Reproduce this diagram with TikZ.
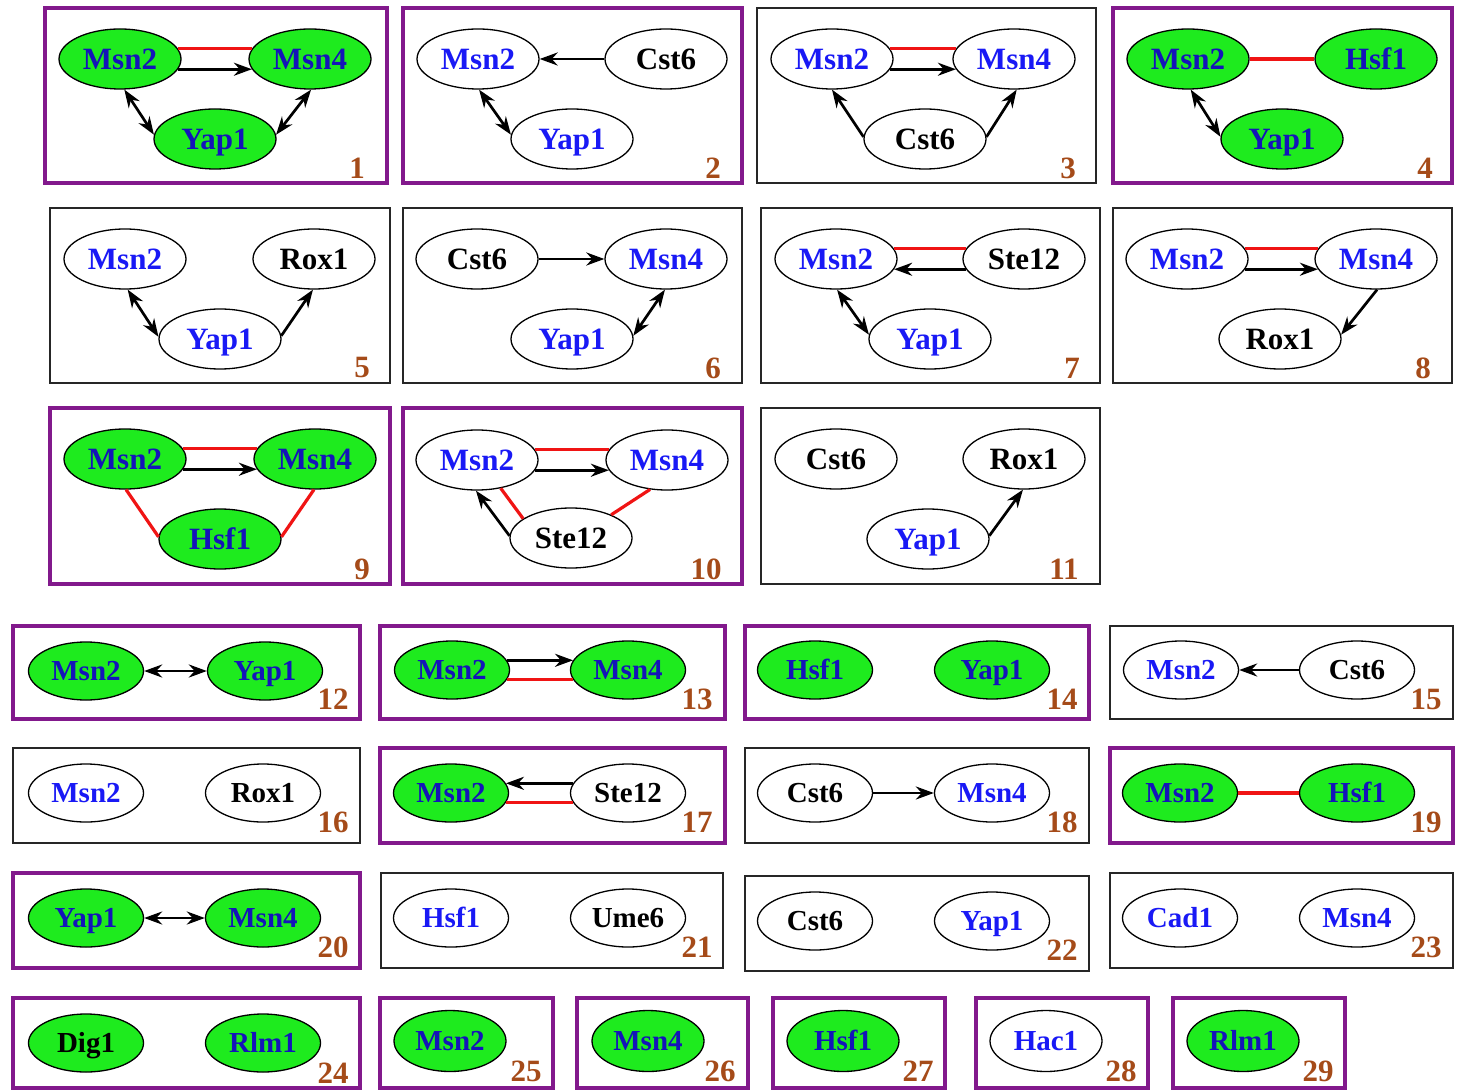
\documentclass[tikz,border=0pt]{standalone}
\usepackage{fontspec}
\setmainfont{Liberation Serif}
\usetikzlibrary{shapes.geometric,arrows.meta}

\definecolor{nodegreen}{RGB}{30,235,30}
\definecolor{geneblue}{RGB}{25,25,245}
\definecolor{deepblue}{RGB}{20,20,185}
\definecolor{boxpurple}{RGB}{130,25,140}
\definecolor{numbrown}{RGB}{165,75,25}
\definecolor{edgered}{RGB}{240,20,20}

\newcommand\genefont{\fontsize{15.5}{18}\selectfont\bfseries}
\newcommand\smallgenefont{\fontsize{14.5}{17}\selectfont\bfseries}
\newcommand\numfont{\fontsize{15.5}{18}\selectfont\bfseries}

\tikzset{
  gene/.style={ellipse, draw=black, line width=0.65pt, minimum width=61pt,
    minimum height=30pt, inner sep=0pt, font=\genefont,
    text height=10.4pt, text depth=0pt},
  gon/.style={gene, fill=nodegreen, text=deepblue},
  goff/.style={gene, fill=white, text=geneblue},
  gonk/.style={gene, fill=nodegreen, text=black},
  goffk/.style={gene, fill=white, text=black},
  small/.style={minimum width=57.5pt, minimum height=29pt, font=\smallgenefont,
    text height=9.8pt, text depth=0pt},
  single/.style={minimum width=56pt, minimum height=30.5pt, font=\smallgenefont,
    text height=9.8pt, text depth=0pt},
  pbox/.style={draw=boxpurple, line width=1.75pt},
  kbox/.style={draw=black!85, line width=1.1pt},
  num/.style={text=numbrown, font=\numfont, inner sep=0pt},
  tip/.tip={Stealth[length=9pt,width=6.5pt]},
  act/.style={-tip, line width=1.35pt},
  mutual/.style={tip-tip, line width=1.35pt},
  bind/.style={draw=edgered, line width=1.6pt}
}

\begin{document}
\begin{tikzpicture}[x=0.5pt,y=-0.5pt]
\useasboundingbox (0,0) rectangle (1459,1090);
\fill[white] (0,0) rectangle (1459,1090);

% ---------------- row 1 ----------------
% motif 1
\draw[pbox] (45,8) rectangle (387,183);
\node[gon] (a1) at (120,59) {Msn2};
\node[gon] (b1) at (310,59) {Msn4};
\node[gon] (c1) at (215,139) {Yap1};
\node[num] (n1) at (357,168) {1};
\draw[bind] (a1.10) -- (b1.170);
\draw[act] (a1.-10) -- (b1.-170);
\draw[mutual] (a1.-82) -- (c1.176);
\draw[mutual] (b1.-88) -- (c1.4);

% motif 2
\draw[pbox] (403,8) rectangle (742,183);
\node[goff] (a2) at (478,59) {Msn2};
\node[goffk] (b2) at (666,59) {Cst6};
\node[goff] (c2) at (572,139) {Yap1};
\node[num] (n2) at (713,168) {2};
\draw[act] (b2.west) -- (a2.east);
\draw[mutual] (a2.-88) -- (c2.176);

% motif 3
\draw[kbox] (757,8) rectangle (1096,183);
\node[goff] (a3) at (832,59) {Msn2};
\node[goff] (b3) at (1014,59) {Msn4};
\node[goffk] (c3) at (925,139) {Cst6};
\node[num] (n3) at (1068,168) {3};
\draw[bind] (a3.10) -- (b3.170);
\draw[act] (a3.-10) -- (b3.-170);
\draw[act] (c3.178) -- (a3.-90);
\draw[act] (c3.2) -- (b3.-85);

% motif 4
\draw[pbox] (1113,8) rectangle (1452,183);
\node[gon] (a4) at (1188,59) {Msn2};
\node[gon] (b4) at (1376,59) {Hsf1};
\node[gon] (c4) at (1282,139) {Yap1};
\node[num] (n4) at (1425,168) {4};
\draw[bind] (a4) -- (b4);
\draw[mutual] (a4.-85) -- (c4.178);

% ---------------- row 2 ----------------
% motif 5
\draw[kbox] (50,208) rectangle (390,383);
\node[goff] (a5) at (125,259) {Msn2};
\node[goffk] (b5) at (314,259) {Rox1};
\node[goff] (c5) at (220,339) {Yap1};
\node[num] (n5) at (362,368) {5};
\draw[mutual] (a5.-85) -- (c5.178);
\draw[act] (c5.3) -- (b5.-92);

% motif 6
\draw[kbox] (403,208) rectangle (742,383);
\node[goffk] (a6) at (477,259) {Cst6};
\node[goff] (b6) at (666,259) {Msn4};
\node[goff] (c6) at (572,339) {Yap1};
\node[num] (n6) at (713,368) {6};
\draw[act] (a6.east) -- (b6.west);
\draw[mutual] (c6.3) -- (b6.-92);

% motif 7
\draw[kbox] (761,208) rectangle (1100,383);
\node[goff] (a7) at (836,259) {Msn2};
\node[goffk] (b7) at (1024,259) {Ste12};
\node[goff] (c7) at (930,339) {Yap1};
\node[num] (n7) at (1072,368) {7};
\draw[bind] (a7.10) -- (b7.170);
\draw[act] (b7.-170) -- (a7.-10);
\draw[mutual] (a7.-88) -- (c7.176);

% motif 8
\draw[kbox] (1113,208) rectangle (1452,383);
\node[goff] (a8) at (1187,259) {Msn2};
\node[goff] (b8) at (1376,259) {Msn4};
\node[goffk] (c8) at (1280,339) {Rox1};
\node[num] (n8) at (1423,368) {8};
\draw[bind] (a8.10) -- (b8.170);
\draw[act] (a8.-10) -- (b8.-170);
\draw[act] (b8.-88) -- (c8.4);

% ---------------- row 3 ----------------
% motif 9
\draw[pbox] (50,408) rectangle (390,584);
\node[gon] (a9) at (125,459) {Msn2};
\node[gon] (b9) at (315,459) {Msn4};
\node[gon] (c9) at (220,539) {Hsf1};
\node[num] (n9) at (362,569) {9};
\draw[bind] (a9.10) -- (b9.170);
\draw[act] (a9.-10) -- (b9.-170);
\draw[bind] (a9.-88) -- (c9.178);
\draw[bind] (b9.-92) -- (c9.2);

% motif 10
\draw[pbox] (403,408) rectangle (742,584);
\node[goff] (a10) at (477,460) {Msn2};
\node[goff] (b10) at (667,460) {Msn4};
\node[goffk] (c10) at (571,538) {Ste12};
\node[num] (n10) at (706,569) {10};
\draw[bind] (a10.10) -- (b10.170);
\draw[act] (a10.-10) -- (b10.-170);
\draw[bind] (a10.-50) -- (c10.158);
\draw[bind] (b10.-120) -- (c10.30);
\draw[act] (c10.178) -- (a10.-92);

% motif 11
\draw[kbox] (761,408) rectangle (1100,584);
\node[goffk] (a11) at (836,459) {Cst6};
\node[goffk] (b11) at (1024,459) {Rox1};
\node[goff] (c11) at (928,539) {Yap1};
\node[num] (n11) at (1064,569) {11};
\draw[act] (c11.3) -- (b11.-92);

% ---------------- row 4 ----------------
\draw[pbox] (13,626) rectangle (360,719);
\node[gon,small] (a12) at (86,671) {Msn2};
\node[gon,small] (b12) at (265,671) {Yap1};
\node[num] (n12) at (333,699) {12};
\draw[mutual] (a12.east) -- (b12.west);

\draw[pbox] (380,626) rectangle (725,719);
\node[gon,small] (a13) at (452,670) {Msn2};
\node[gon,small] (b13) at (628,670) {Msn4};
\node[num] (n13) at (697,699) {13};
\draw[act] (a13.10) -- (b13.170);
\draw[bind] (a13.-10) -- (b13.-170);

\draw[pbox] (745,626) rectangle (1089,719);
\node[gon,small] (a14) at (815,670) {Hsf1};
\node[gon,small] (b14) at (992,670) {Yap1};
\node[num] (n14) at (1062,699) {14};

\draw[kbox] (1110,626) rectangle (1453,719);
\node[goff,small] (a15) at (1181,670) {Msn2};
\node[goffk,small] (b15) at (1357,670) {Cst6};
\node[num] (n15) at (1426,699) {15};
\draw[act] (b15.west) -- (a15.east);

% ---------------- row 5 ----------------
\draw[kbox] (13,748) rectangle (360,843);
\node[goff,small] (a16) at (86,793) {Msn2};
\node[goffk,small] (b16) at (263,793) {Rox1};
\node[num] (n16) at (333,822) {16};

\draw[pbox] (380,748) rectangle (725,843);
\node[gon,small] (a17) at (451,793) {Msn2};
\node[goffk,small] (b17) at (628,793) {Ste12};
\node[num] (n17) at (697,822) {17};
\draw[act] (b17.170) -- (a17.10);
\draw[bind] (a17.-10) -- (b17.-170);

\draw[kbox] (745,748) rectangle (1089,843);
\node[goffk,small] (a18) at (815,793) {Cst6};
\node[goff,small] (b18) at (992,793) {Msn4};
\node[num] (n18) at (1062,822) {18};
\draw[act] (a18.east) -- (b18.west);

\draw[pbox] (1110,748) rectangle (1453,843);
\node[gon,small] (a19) at (1180,793) {Msn2};
\node[gon,small] (b19) at (1357,793) {Hsf1};
\node[num] (n19) at (1426,822) {19};
\draw[bind] (a19) -- (b19);

% ---------------- row 6 ----------------
\draw[pbox] (13,873) rectangle (360,968);
\node[gon,small] (a20) at (86,918) {Yap1};
\node[gon,small] (b20) at (263,918) {Msn4};
\node[num] (n20) at (333,947) {20};
\draw[mutual] (a20.east) -- (b20.west);

\draw[kbox] (381,873) rectangle (723,968);
\node[goff,small] (a21) at (451,918) {Hsf1};
\node[goffk,small] (b21) at (628,918) {Ume6};
\node[num] (n21) at (697,947) {21};

\draw[kbox] (745,876) rectangle (1089,971);
\node[goffk,small] (a22) at (815,921) {Cst6};
\node[goff,small] (b22) at (992,921) {Yap1};
\node[num] (n22) at (1062,950) {22};

\draw[kbox] (1110,873) rectangle (1453,968);
\node[goff,small] (a23) at (1180,918) {Cad1};
\node[goff,small] (b23) at (1357,918) {Msn4};
\node[num] (n23) at (1426,947) {23};

% ---------------- row 7 ----------------
\draw[pbox] (13,998) rectangle (360,1088);
\node[gonk,small] (a24) at (86,1043) {Dig1};
\node[gon,small] (b24) at (263,1043) {Rlm1};
\node[num] (n24) at (333,1073) {24};

\draw[pbox] (380,998) rectangle (553,1088);
\node[gon,single] (a25) at (450,1041) {Msn2};
\node[num] (n25) at (526,1071) {25};

\draw[pbox] (577,998) rectangle (748,1088);
\node[gon,single] (a26) at (648,1041) {Msn4};
\node[num] (n26) at (720,1071) {26};

\draw[pbox] (773,998) rectangle (945,1088);
\node[gon,single] (a27) at (843,1041) {Hsf1};
\node[num] (n27) at (918,1071) {27};

\draw[pbox] (976,998) rectangle (1148,1088);
\node[goff,single] (a28) at (1046,1041) {Hac1};
\node[num] (n28) at (1121,1071) {28};

\draw[pbox] (1173,998) rectangle (1345,1088);
\node[gon,single] (a29) at (1243,1041) {Rlm1};
\node[num] (n29) at (1318,1071) {29};
\end{tikzpicture}
\end{document}
